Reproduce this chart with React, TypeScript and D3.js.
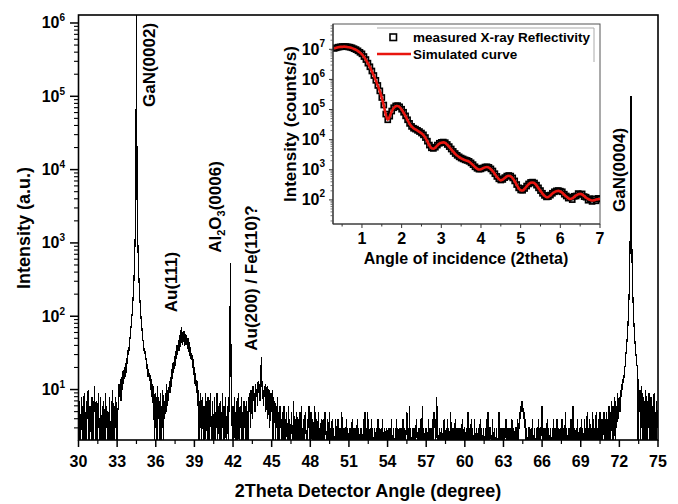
import React from "react";
import * as d3 from "d3";

// ---------- Main XRD scan (2theta, counts), 0.05 deg steps from 30 to 75 ----------
const scanStart = 30;
const scanStep = 0.05;
const counts = [
  5, 2, 7, 1, 4, 8, 3, 1, 6, 9, 2, 5, 1, 7, 4, 10, 3, 1, 6, 4,
  2, 8, 3, 1, 6, 11, 4, 2, 7, 1, 5, 9, 3, 1, 8, 4, 2, 6, 1, 7,
  4, 1, 9, 3, 6, 2, 5, 1, 8, 3, 1, 7, 2, 10, 4, 1, 6, 3, 8, 2,
  1, 5, 6, 12, 8, 14, 7, 15, 10, 18, 12, 20, 14, 23, 17, 27, 22, 35, 30, 45,
  50, 64, 76, 102, 132, 198, 295, 525, 1180, 4100, 1300000, 4000, 1170, 515, 305, 190, 138, 98, 80, 60,
  48, 44, 33, 35, 25, 27, 19, 22, 15, 19, 13, 16, 10, 14, 8, 12, 6, 11, 1, 9,
  3, 8, 1, 11, 4, 7, 2, 9, 1, 6, 3, 10, 2, 7, 4, 9, 5, 12, 6, 10,
  7, 13, 9, 15, 11, 19, 14, 24, 17, 29, 21, 33, 26, 41, 30, 47, 34, 56, 38, 62,
  72, 41, 60, 44, 63, 39, 58, 40, 55, 36, 50, 33, 44, 29, 38, 25, 31, 20, 26, 16,
  20, 12, 17, 9, 13, 6, 10, 1, 7, 3, 9, 1, 5, 8, 2, 6, 1, 9, 3, 7,
  2, 8, 4, 1, 6, 9, 3, 1, 7, 4, 2, 8, 1, 5, 3, 9, 1, 6, 4, 2,
  7, 1, 5, 3, 9, 2, 6, 1, 8, 3, 1, 6, 4, 2, 9, 40, 530, 15, 6, 2,
  6, 1, 8, 3, 5, 1, 7, 2, 9, 4, 1, 6, 3, 8, 2, 5, 1, 7, 3, 6,
  2, 7, 4, 1, 8, 5, 9, 3, 10, 6, 4, 11, 7, 9, 5, 12, 8, 10, 6, 13,
  9, 12, 7, 14, 28, 11, 13, 6, 10, 8, 12, 5, 9, 11, 4, 8, 10, 3, 7, 9,
  5, 10, 2, 8, 4, 7, 1, 6, 3, 8, 2, 5, 1, 6, 3, 4, 1, 5, 2, 6,
  1, 4, 2, 5, 3, 1, 6, 2, 4, 1, 3, 5, 2, 1, 7, 3, 2, 4, 1, 5,
  2, 4, 1, 3, 5, 2, 6, 1, 3, 2, 4, 1, 5, 3, 2, 1, 4, 3, 6, 2,
  1, 5, 3, 2, 4, 1, 3, 6, 2, 1, 4, 3, 2, 5, 1, 3, 2, 4, 1, 3,
  4, 2, 1, 5, 3, 2, 1, 4, 3, 2, 5, 1, 3, 2, 4, 1, 3, 2, 1, 4,
  3, 2, 1, 4, 2, 3, 1, 3, 2, 5, 1, 3, 2, 1, 3, 2, 4, 1, 3, 2,
  1, 3, 2, 3, 1, 4, 2, 1, 3, 2, 3, 1, 2, 4, 1, 3, 2, 1, 3, 2,
  3, 1, 2, 4, 2, 5, 1, 3, 2, 5, 3, 1, 2, 3, 1, 4, 2, 3, 1, 2,
  3, 2, 1, 3, 2, 4, 1, 3, 2, 1, 3, 2, 4, 1, 2, 3, 1, 2, 3, 1,
  2, 3, 1, 2, 3, 1, 4, 2, 1, 3, 2, 1, 3, 2, 4, 1, 3, 2, 1, 3,
  1, 3, 2, 1, 4, 2, 3, 1, 2, 3, 5, 2, 3, 1, 6, 2, 3, 1, 2, 3,
  1, 3, 2, 1, 3, 4, 2, 1, 3, 2, 3, 1, 4, 2, 6, 1, 3, 2, 1, 3,
  2, 3, 1, 2, 4, 1, 3, 2, 3, 1, 4, 2, 5, 3, 4, 2, 8, 5, 3, 1,
  1, 3, 2, 1, 3, 2, 1, 3, 4, 2, 1, 3, 2, 4, 1, 3, 2, 1, 5, 2,
  1, 3, 2, 3, 1, 4, 2, 1, 3, 2, 1, 3, 2, 1, 3, 2, 4, 1, 2, 3,
  3, 1, 2, 3, 1, 5, 2, 1, 3, 2, 4, 1, 3, 2, 1, 4, 2, 1, 3, 2,
  2, 3, 1, 2, 4, 1, 3, 2, 1, 3, 2, 1, 3, 2, 4, 1, 5, 2, 1, 3,
  3, 2, 1, 4, 2, 1, 3, 2, 1, 3, 2, 1, 3, 5, 2, 1, 3, 2, 1, 3,
  1, 3, 2, 3, 4, 1, 2, 3, 1, 2, 3, 1, 2, 4, 3, 1, 3, 2, 1, 3,
  3, 2, 4, 1, 3, 5, 4, 6, 5, 7, 6, 4, 5, 3, 4, 2, 3, 1, 2, 3,
  3, 1, 2, 3, 1, 4, 2, 1, 3, 2, 1, 3, 2, 1, 4, 2, 3, 1, 2, 5,
  6, 2, 1, 3, 2, 1, 3, 2, 4, 1, 3, 2, 1, 3, 2, 1, 3, 2, 4, 1,
  3, 1, 2, 4, 2, 1, 3, 2, 1, 3, 2, 4, 1, 3, 2, 1, 5, 3, 2, 1,
  2, 3, 1, 3, 2, 4, 1, 3, 6, 2, 3, 1, 2, 3, 1, 4, 2, 1, 3, 2,
  2, 4, 1, 3, 2, 1, 4, 2, 3, 1, 5, 2, 3, 1, 4, 2, 3, 1, 5, 2,
  4, 1, 3, 2, 5, 1, 3, 2, 4, 1, 5, 3, 1, 4, 2, 3, 5, 1, 4, 2,
  5, 1, 4, 2, 6, 1, 5, 3, 7, 2, 6, 1, 5, 8, 2, 6, 3, 9, 4, 7,
  8, 5, 10, 8, 12, 10, 15, 14, 19, 21, 29, 36, 48, 66, 102, 180, 410, 1600, 100000, 1600,
  410, 183, 105, 68, 48, 36, 29, 23, 19, 2, 14, 5, 10, 1, 11, 4, 9, 1, 8, 3,
  2, 10, 4, 1, 7, 3, 9, 1, 5, 8, 2, 6, 1, 4, 9, 2, 5, 1, 7, 3,
  4,
];
const xTickValues = [30, 33, 36, 39, 42, 45, 48, 51, 54, 57, 60, 63, 66, 69, 72, 75];
const yTickExponents = [1, 2, 3, 4, 5, 6];

const peakNames = ["GaN(0002)", "Au(111)", "Al2O3(0006)", "Au(200) / Fe(110)?", "GaN(0004)"];

// ---------- Inset: X-ray reflectivity (log10 counts/s) ----------
const xrrStart = 0.3;
const xrrStep = 0.05;
const xrrMeasuredLog = [
  7.03, 7.05, 7.07, 7.08, 7.09, 7.09, 7.09, 7.08, 7.07, 7.05,
  7.02, 6.99, 6.95, 6.90, 6.85, 6.76, 6.66, 6.54, 6.42, 6.28,
  6.13, 5.97, 5.80, 5.62, 5.40, 5.15, 4.85, 4.66, 4.78, 4.95,
  5.06, 5.12, 5.13, 5.09, 5.01, 4.91, 4.79, 4.66, 4.54, 4.44,
  4.38, 4.35, 4.31, 4.27, 4.22, 4.16, 4.07, 3.95, 3.82, 3.73,
  3.71, 3.75, 3.82, 3.88, 3.91, 3.92, 3.90, 3.84, 3.77, 3.69,
  3.61, 3.54, 3.48, 3.43, 3.39, 3.36, 3.33, 3.31, 3.28, 3.23,
  3.17, 3.10, 3.05, 3.02, 3.03, 3.06, 3.09, 3.10, 3.08, 3.03,
  2.96, 2.87, 2.78, 2.70, 2.66, 2.68, 2.74, 2.79, 2.81, 2.79,
  2.73, 2.63, 2.51, 2.40, 2.33, 2.32, 2.38, 2.46, 2.53, 2.58,
  2.59, 2.56, 2.49, 2.40, 2.31, 2.22, 2.15, 2.10, 2.11, 2.16,
  2.22, 2.27, 2.30, 2.31, 2.29, 2.27, 2.19, 2.13, 2.06, 2.09,
  2.01, 2.12, 2.13, 2.21, 2.18, 2.20, 2.11, 2.09, 1.99, 2.04,
  1.95, 2.03, 1.97, 2.05, 2.03,
];
const xrrSimulatedLog = [
  7.02, 7.05, 7.07, 7.08, 7.08, 7.09, 7.08, 7.07, 7.06, 7.04,
  7.01, 6.98, 6.94, 6.89, 6.83, 6.75, 6.65, 6.53, 6.41, 6.27,
  6.12, 5.96, 5.79, 5.61, 5.39, 5.13, 4.84, 4.66, 4.77, 4.94,
  5.05, 5.11, 5.12, 5.08, 5.00, 4.90, 4.78, 4.65, 4.53, 4.44,
  4.38, 4.34, 4.30, 4.26, 4.21, 4.15, 4.06, 3.94, 3.81, 3.72,
  3.70, 3.74, 3.81, 3.87, 3.90, 3.91, 3.89, 3.83, 3.76, 3.68,
  3.60, 3.53, 3.47, 3.42, 3.38, 3.35, 3.32, 3.30, 3.27, 3.22,
  3.16, 3.09, 3.04, 3.01, 3.02, 3.05, 3.08, 3.09, 3.07, 3.02,
  2.95, 2.86, 2.77, 2.69, 2.65, 2.67, 2.73, 2.78, 2.80, 2.78,
  2.72, 2.62, 2.50, 2.39, 2.32, 2.31, 2.37, 2.45, 2.52, 2.57,
  2.58, 2.55, 2.48, 2.39, 2.30, 2.21, 2.14, 2.09, 2.10, 2.15,
  2.21, 2.26, 2.29, 2.30, 2.28, 2.24, 2.17, 2.11, 2.06, 2.03,
  2.05, 2.10, 2.15, 2.19, 2.20, 2.18, 2.13, 2.07, 2.03, 2.00,
  1.98, 1.99, 2.01, 2.02, 2.03,
];
const insetXTickValues = [1, 2, 3, 4, 5, 6, 7];
const insetYTickExponents = [2, 3, 4, 5, 6, 7];
const legendLabels = ["measured X-ray Reflectivity", "Simulated curve"];

const FONT = "'Liberation Sans', Arial, Helvetica, sans-serif";

export default function App() {
  // main scales
  const x = d3.scaleLinear().domain([30, 75]).range([78.5, 658]);
  const y = d3.scaleLog().domain([2.05, 1.285e6]).range([440, 15]);
  const pts: [number, number][] = counts.map((c, i) => [scanStart + i * scanStep, c]);
  const line = d3
    .line<[number, number]>()
    .x((d) => x(d[0]))
    .y((d) => y(Math.max(d[1], 0.8)));

  const xMinor: number[] = [];
  for (let i = 0; i < xTickValues.length - 1; i++) xMinor.push((xTickValues[i] + xTickValues[i + 1]) / 2);
  const yMinor: number[] = [];
  for (let e = 0; e <= 6; e++) for (let m = 2; m <= 9; m++) {
    const v = m * Math.pow(10, e);
    if (v >= 2.05 && v <= 1.285e6) yMinor.push(v);
  }

  // inset scales
  const ix = d3.scaleLinear().domain([0.27, 7]).range([333, 600]);
  const iy = d3.scaleLog().domain([Math.pow(10, 1.2), Math.pow(10, 7.84)]).range([224, 24]);
  const meas = xrrMeasuredLog.map((v, i) => [xrrStart + i * xrrStep, Math.pow(10, v)] as [number, number]);
  const sim = xrrSimulatedLog.map((v, i) => [xrrStart + i * xrrStep, Math.pow(10, v)] as [number, number]);
  const simLine = d3
    .line<[number, number]>()
    .x((d) => ix(d[0]))
    .y((d) => iy(d[1]))
    .curve(d3.curveMonotoneX);
  const ixMinor = [0.5, 1.5, 2.5, 3.5, 4.5, 5.5, 6.5];
  const iyMinor: number[] = [];
  for (let e = 1; e <= 7; e++) for (let m = 2; m <= 9; m++) {
    const v = m * Math.pow(10, e);
    if (v >= Math.pow(10, 1.2) && v <= Math.pow(10, 7.84)) iyMinor.push(v);
  }

  const peakPos: { [k: string]: [number, number] } = {
    "GaN(0002)": [154.5, 65],
    "Au(111)": [176.5, 282],
    "Al2O3(0006)": [221, 207],
    "Au(200) / Fe(110)?": [256.5, 278],
    "GaN(0004)": [624.5, 170],
  };

  return (
    <svg
      width={678}
      height={504}
      style={{ position: "absolute", left: 0, top: 0, background: "#fff" }}
      fontFamily={FONT}
      fontWeight="bold"
    >
      <defs>
        <clipPath id="mainClip">
          <rect x={78.5} y={15} width={579.5} height={425} />
        </clipPath>
        <clipPath id="insetClip">
          <rect x={333} y={24} width={267} height={200} />
        </clipPath>
      </defs>
      <rect width={678} height={504} fill="#fff" />

      {/* main trace */}
      <path
        d={line(pts) || ""}
        fill="none"
        stroke="#000"
        strokeWidth={1.2}
        strokeLinejoin="miter"
        shapeRendering="crispEdges"
        clipPath="url(#mainClip)"
      />

      {/* main frame */}
      <rect x={78.5} y={15} width={579.5} height={425} fill="none" stroke="#000" strokeWidth={1.6} />

      {/* x axis ticks */}
      {xTickValues.map((t) => (
        <g key={"xt" + t}>
          <line x1={x(t)} x2={x(t)} y1={440} y2={447} stroke="#000" strokeWidth={1.5} />
          <text x={x(t)} y={467} textAnchor="middle" fontSize={16}>{t}</text>
        </g>
      ))}
      {xMinor.map((t) => (
        <line key={"xm" + t} x1={x(t)} x2={x(t)} y1={440} y2={444} stroke="#000" strokeWidth={1.2} />
      ))}
      {/* y axis ticks */}
      {yTickExponents.map((e) => (
        <g key={"yt" + e}>
          <line x1={70} x2={78.5} y1={y(Math.pow(10, e))} y2={y(Math.pow(10, e))} stroke="#000" strokeWidth={1.5} />
          <text x={65} y={y(Math.pow(10, e)) + 5.5} textAnchor="end" fontSize={16}>
            10<tspan dy={-7} fontSize={10}>{e}</tspan>
          </text>
        </g>
      ))}
      {yMinor.map((v) => (
        <line key={"ym" + v} x1={74} x2={78.5} y1={y(v)} y2={y(v)} stroke="#000" strokeWidth={1.1} />
      ))}

      {/* axis titles */}
      <text x={368} y={497} textAnchor="middle" fontSize={18}>2Theta Detector Angle (degree)</text>
      <text transform="translate(30,228) rotate(-90)" textAnchor="middle" fontSize={18}>Intensity (a.u.)</text>

      {/* peak labels */}
      {peakNames.map((n) => {
        const [px, py] = peakPos[n];
        if (n === "Al2O3(0006)") {
          return (
            <text key={n} transform={`translate(${px},${py}) rotate(-90)`} textAnchor="middle" fontSize={17}>
              Al<tspan dy={4} fontSize={11}>2</tspan>
              <tspan dy={-4}>O</tspan>
              <tspan dy={4} fontSize={11}>3</tspan>
              <tspan dy={-4}>(0006)</tspan>
            </text>
          );
        }
        return (
          <text key={n} transform={`translate(${px},${py}) rotate(-90)`} textAnchor="middle" fontSize={17}>
            {n}
          </text>
        );
      })}

      {/* ---------- inset ---------- */}
      <rect x={333} y={24} width={267} height={200} fill="#fff" stroke="#555" strokeWidth={1} />
      <g clipPath="url(#insetClip)">
        {meas.map((d, i) => (
          <rect
            key={"m" + i}
            x={ix(d[0]) - 2.5}
            y={iy(d[1]) - 2.5}
            width={5}
            height={5}
            fill="none"
            stroke="#000"
            strokeWidth={1.7}
          />
        ))}
        <path d={simLine(sim) || ""} fill="none" stroke="#e8150f" strokeWidth={2.6} />
      </g>
      <line x1={333} x2={333} y1={24} y2={224} stroke="#333" strokeWidth={1.2} />
      <line x1={333} x2={600} y1={224} y2={224} stroke="#333" strokeWidth={1.2} />
      {insetXTickValues.map((t) => (
        <g key={"ixt" + t}>
          <line x1={ix(t)} x2={ix(t)} y1={224} y2={228} stroke="#333" strokeWidth={1} />
          <text x={ix(t)} y={244} textAnchor="middle" fontSize={16}>{t}</text>
        </g>
      ))}
      {ixMinor.map((t) => (
        <line key={"ixm" + t} x1={ix(t)} x2={ix(t)} y1={224} y2={226.5} stroke="#333" strokeWidth={1} />
      ))}
      {insetYTickExponents.map((e) => (
        <g key={"iyt" + e}>
          <line x1={329} x2={333} y1={iy(Math.pow(10, e))} y2={iy(Math.pow(10, e))} stroke="#333" strokeWidth={1} />
          <text x={325} y={iy(Math.pow(10, e)) + 5.5} textAnchor="end" fontSize={16}>
            10<tspan dy={-8} fontSize={10}>{e}</tspan>
          </text>
        </g>
      ))}
      {iyMinor.map((v) => (
        <line key={"iym" + v} x1={330.5} x2={333} y1={iy(v)} y2={iy(v)} stroke="#555" strokeWidth={0.8} />
      ))}
      <text x={466} y={264} textAnchor="middle" fontSize={16}>Angle of incidence (2theta)</text>
      <text transform="translate(296,124) rotate(-90)" textAnchor="middle" fontSize={17}>Intensity (counts/s)</text>

      {/* legend */}
      <line x1={377} x2={594} y1={28} y2={28} stroke="#aaa" strokeWidth={1} />
      <line x1={594} x2={594} y1={28} y2={62} stroke="#aaa" strokeWidth={1} />
      <rect x={390} y={34} width={6.5} height={6.5} fill="none" stroke="#000" strokeWidth={1.6} />
      <text x={413} y={42} fontSize={13.5}>{legendLabels[0]}</text>
      <line x1={377} x2={411} y1={54} y2={54} stroke="#e8150f" strokeWidth={2.6} />
      <text x={413} y={59} fontSize={13.5}>{legendLabels[1]}</text>
    </svg>
  );
}
